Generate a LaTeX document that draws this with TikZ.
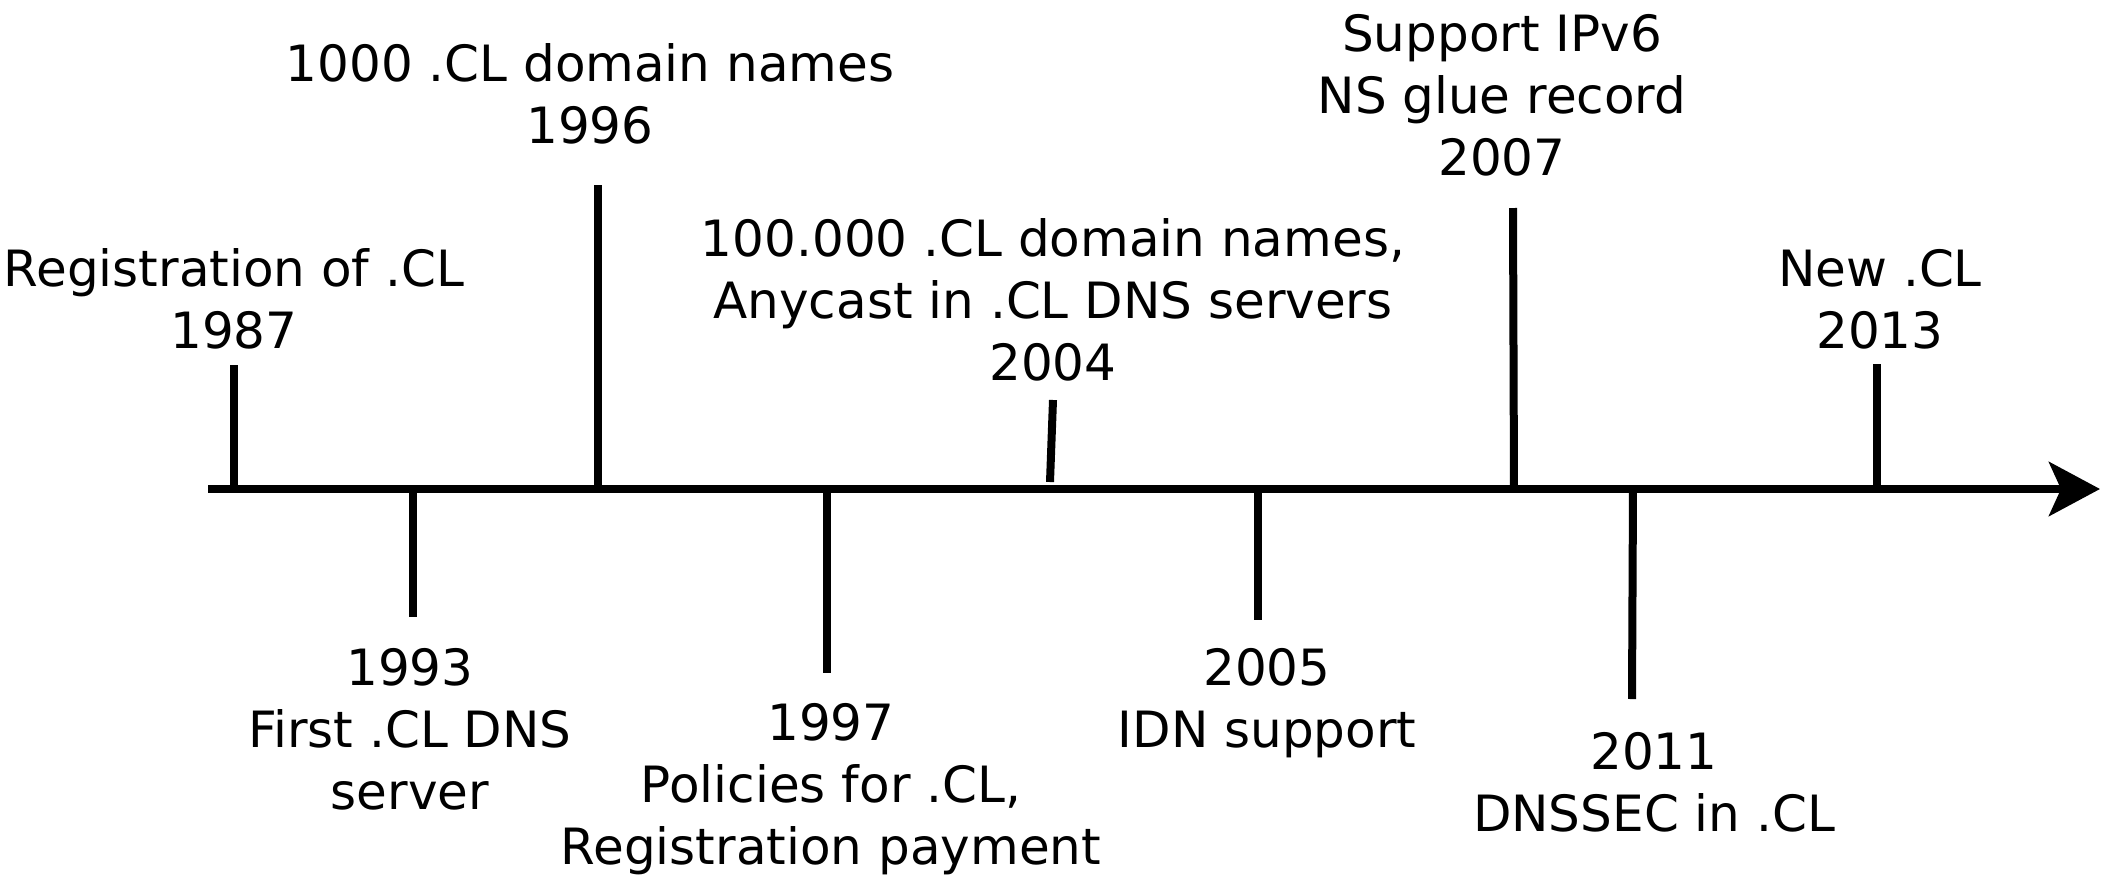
\documentclass[tikz,border=0pt]{standalone}
\usepackage{fontspec}
\setmainfont{DejaVu Sans}
\usetikzlibrary{arrows.meta}
\begin{document}
\begin{tikzpicture}[x=0.5pt,y=-0.5pt,
  tickline/.style={line width=4pt},
  axisline/.style={line width=4pt,-{Stealth[length=25.5pt,width=27pt,inset=6pt]}},
  lbl/.style={align=center,inner sep=0pt,font=\fontsize{25}{31}\selectfont}]
\useasboundingbox (0,0) rectangle (2101,874);
% axis
\coordinate (axL) at (208,489);
\coordinate (axR) at (2100,489);
\draw[axisline] (axL) -- (axR);
% tick coordinates
\coordinate (t87a) at (234,365);  \coordinate (t87b) at (234,489);
\coordinate (t93a) at (413,489);  \coordinate (t93b) at (413,617);
\coordinate (t96a) at (598,185);  \coordinate (t96b) at (598,489);
\coordinate (t97a) at (827,489);  \coordinate (t97b) at (827,673);
\coordinate (t04a) at (1053,400); \coordinate (t04b) at (1050,482);
\coordinate (t05a) at (1258,489); \coordinate (t05b) at (1258,620);
\coordinate (t07a) at (1513,208); \coordinate (t07b) at (1514,489);
\coordinate (t11a) at (1633,489); \coordinate (t11b) at (1632,699);
\coordinate (t13a) at (1877,364); \coordinate (t13b) at (1877,489);
\draw[tickline] (t87a) -- (t87b);
\draw[tickline] (t93a) -- (t93b);
\draw[tickline] (t96a) -- (t96b);
\draw[tickline] (t97a) -- (t97b);
\draw[tickline] (t04a) -- (t04b);
\draw[tickline] (t05a) -- (t05b);
\draw[tickline] (t07a) -- (t07b);
\draw[tickline] (t11a) -- (t11b);
\draw[tickline] (t13a) -- (t13b);
% labels
\node[lbl] (l87) at (234,299) {Registration of .CL\\1987};
\node[lbl] (l96) at (590,94) {1000 .CL domain names\\1996};
\node[lbl] (l04) at (1053,300) {100.000 .CL domain names,\\Anycast in .CL DNS servers\\2004};
\node[lbl] (l07) at (1502,95) {Support IPv6\\NS glue record\\2007};
\node[lbl] (l13) at (1880,299) {New .CL\\2013};
\node[lbl] (l93) at (410,729) {1993\\First .CL DNS\\server};
\node[lbl] (l97) at (831,789) {1997\\Policies for .CL,\\Registration payment};
\node[lbl] (l05) at (1267,703) {2005\\IDN support};
\node[lbl] (l11) at (1654,782) {2011\\DNSSEC in .CL};
\end{tikzpicture}
\end{document}
